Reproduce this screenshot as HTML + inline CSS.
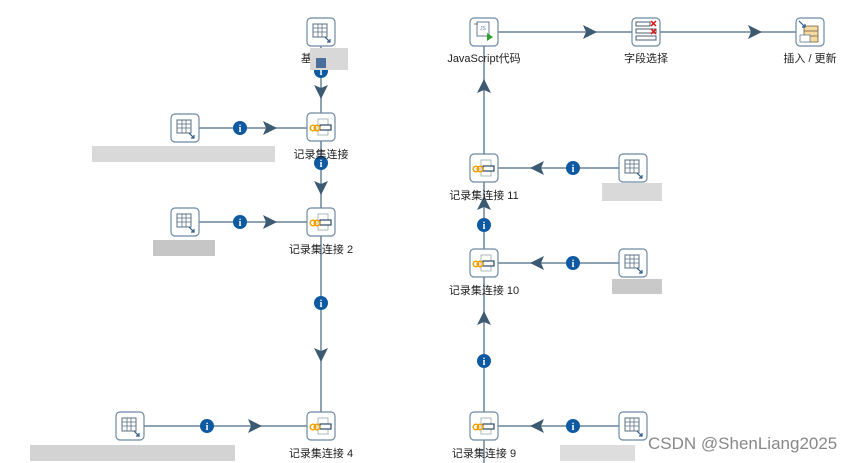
<!DOCTYPE html>
<html><head><meta charset="utf-8"><style>
html,body{margin:0;padding:0;background:#fff;width:865px;height:463px;overflow:hidden}
text{font-family:"Liberation Sans","Noto Sans CJK SC",sans-serif;font-size:11px;fill:#222}
</style></head><body>
<svg width="865" height="463" viewBox="0 0 865 463" xmlns="http://www.w3.org/2000/svg">
<defs>
<g id="box"><rect x="-14" y="-14" width="28" height="28" rx="4" fill="#fff" stroke="#6d8aa3" stroke-width="1.2"/></g>
<g id="tbl"><use href="#box"/><rect x="-8" y="-8" width="14" height="13" fill="#fff" stroke="#5a6f82" stroke-width="1"/><path d="M-8 -4H6M-8 0H6M-3 -8V5M1 -8V5" stroke="#5a6f82" stroke-width="0.8"/><path d="M4 5L9 10M9 7V10H6" stroke="#2c5b8a" stroke-width="1.2" fill="none"/></g>
<g id="mrg"><use href="#box"/><rect x="-3" y="-8" width="10" height="16" fill="none" stroke="#9aa" stroke-width="0.8"/><rect x="-1" y="-2" width="11" height="5" fill="#fff" stroke="#2c4a66" stroke-width="1.2"/><circle cx="-8" cy="1" r="2.8" fill="none" stroke="#f5a000" stroke-width="1.5"/><circle cx="-4" cy="1" r="2.8" fill="none" stroke="#f5a000" stroke-width="1.5"/></g>
<g id="inf"><circle r="7" fill="#0d5aa2"/><text x="0" y="4" text-anchor="middle" style="font-size:10px;font-weight:bold;fill:#fff;font-family:'Liberation Serif',serif">i</text></g>
<path id="ar" d="M-7 -7L7 0L-7 7L-4 0Z" fill="#3d5a73"/>
</defs>
<g stroke="#6a8499" stroke-width="1.5" fill="none">
<path d="M321 46V113M321 141V208M321 236V412M199 128H307M199 222H307M144 426H307"/>
<path d="M484 46V154M484 182V249M484 277V412M484 440V463M619 168H498M619 263H498M619 426H498"/>
<path d="M498 32H632M660 32H796"/>
</g>
<use href="#ar" transform="translate(321,92) rotate(90)"/>
<use href="#ar" transform="translate(321,188) rotate(90)"/>
<use href="#ar" transform="translate(321,355) rotate(90)"/>
<use href="#ar" transform="translate(270,128)"/>
<use href="#ar" transform="translate(270,222)"/>
<use href="#ar" transform="translate(255,426)"/>
<use href="#ar" transform="translate(590,32)"/>
<use href="#ar" transform="translate(755,32)"/>
<use href="#ar" transform="translate(484,86) rotate(-90)"/>
<use href="#ar" transform="translate(484,203) rotate(-90)"/>
<use href="#ar" transform="translate(484,318) rotate(-90)"/>
<use href="#ar" transform="translate(537,168) rotate(180)"/>
<use href="#ar" transform="translate(537,263) rotate(180)"/>
<use href="#ar" transform="translate(537,426) rotate(180)"/>
<use href="#inf" x="321" y="71"/><use href="#inf" x="321" y="163"/><use href="#inf" x="321" y="303"/>
<use href="#inf" x="240" y="128"/><use href="#inf" x="240" y="222"/><use href="#inf" x="207" y="426"/>
<use href="#inf" x="484" y="225"/><use href="#inf" x="484" y="361"/>
<use href="#inf" x="573" y="168"/><use href="#inf" x="573" y="263"/><use href="#inf" x="573" y="426"/>
<use href="#tbl" x="321" y="32"/><use href="#tbl" x="185" y="128"/><use href="#tbl" x="185" y="222"/><use href="#tbl" x="130" y="426"/>
<use href="#tbl" x="633" y="168"/><use href="#tbl" x="633" y="263"/><use href="#tbl" x="633" y="426"/>
<use href="#mrg" x="321" y="127"/><use href="#mrg" x="321" y="222"/><use href="#mrg" x="321" y="426"/>
<use href="#mrg" x="484" y="168"/><use href="#mrg" x="484" y="263"/><use href="#mrg" x="484" y="426"/>
<!-- JS -->
<use href="#box" x="484" y="32"/>
<path d="M477 22H489V36H477Z M474 24H478" stroke="#6a7f92" fill="none" stroke-width="1"/>
<text x="480" y="30" style="font-size:5px;fill:#6a7f92">JS</text>
<path d="M487 33L493 37L487 41Z" fill="#2da02d"/>
<!-- field select -->
<use href="#box" x="646" y="32"/>
<path d="M636 22H650V26H636Z M636 29H656V33H636Z M636 36H656V40H636Z" fill="#fff" stroke="#4a5f72" stroke-width="1"/>
<path d="M651 21L656 26M656 21L651 26M651 29L656 34M656 29L651 34" stroke="#e01010" stroke-width="1.5"/>
<!-- insert update -->
<use href="#box" x="810" y="32"/>
<path d="M804 26H818V42H804Z" fill="#f4d9a0" stroke="#6a5a40" stroke-width="0.8"/>
<path d="M804 31H818M804 36H818" stroke="#6a5a40" stroke-width="0.7"/>
<path d="M799 21L805 27M805 24V27H802" stroke="#2c5b8a" stroke-width="1.2" fill="none"/>
<rect x="800" y="35" width="10" height="7" fill="#fff" stroke="#6a7f92" stroke-width="0.8"/>
<!-- labels -->
<text x="301" y="62">基</text>
<rect x="310" y="48" width="38" height="22" fill="#d8d8d8"/><rect x="316" y="58" width="10" height="10" fill="#4c6e9a"/>
<text x="321" y="158" text-anchor="middle">记录集连接</text>
<text x="321" y="253" text-anchor="middle">记录集连接 2</text>
<text x="321" y="457" text-anchor="middle">记录集连接 4</text>
<text x="484" y="62" text-anchor="middle">JavaScript代码</text>
<text x="646" y="62" text-anchor="middle">字段选择</text>
<text x="810" y="62" text-anchor="middle">插入 / 更新</text>
<text x="484" y="199" text-anchor="middle">记录集连接 11</text>
<text x="484" y="294" text-anchor="middle">记录集连接 10</text>
<text x="484" y="457" text-anchor="middle">记录集连接 9</text>
<!-- blurred labels -->
<rect x="92" y="146" width="183" height="16" fill="#d0d0d0" opacity="0.8"/>
<rect x="153" y="240" width="62" height="16" fill="#b8b8b8" opacity="0.8"/>
<rect x="30" y="445" width="205" height="16" fill="#c8c8c8" opacity="0.8"/>
<rect x="602" y="183" width="60" height="18" fill="#cfcfcf" opacity="0.8"/>
<rect x="612" y="279" width="50" height="15" fill="#bcbcbc" opacity="0.8"/>
<rect x="560" y="445" width="75" height="16" fill="#d4d4d4" opacity="0.8"/>
<text x="648" y="449" style="font-size:17px;fill:#888">CSDN @ShenLiang2025</text>
</svg>
</body></html>
